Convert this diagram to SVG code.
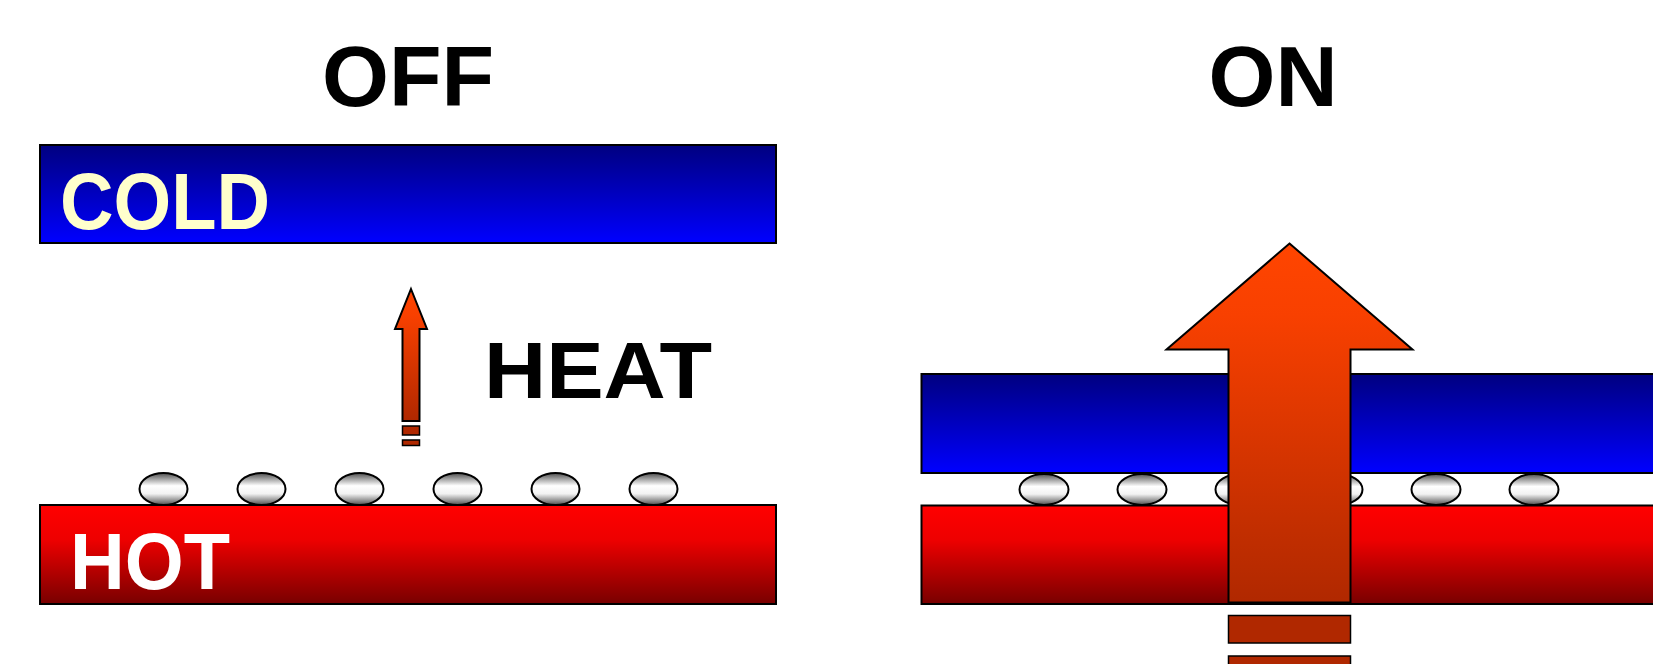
<svg xmlns="http://www.w3.org/2000/svg" width="1653" height="664" viewBox="0 0 1653 664">
<defs>
<linearGradient id="gBlue" x1="0" y1="0" x2="0" y2="1"><stop offset="0" stop-color="#000080"/><stop offset="1" stop-color="#0000FF"/></linearGradient>
<linearGradient id="gRed" x1="0" y1="0" x2="0" y2="1"><stop offset="0" stop-color="#FF0000"/><stop offset="0.35" stop-color="#EE0000"/><stop offset="1" stop-color="#780000"/></linearGradient>
<linearGradient id="gArrow" x1="0" y1="0" x2="0" y2="1"><stop offset="0" stop-color="#FF4500"/><stop offset="0.2" stop-color="#F84000"/><stop offset="1" stop-color="#B02800"/></linearGradient>
<linearGradient id="gBall" x1="0" y1="0" x2="0" y2="1"><stop offset="0" stop-color="#505050"/><stop offset="0.4" stop-color="#FFFFFF"/><stop offset="0.65" stop-color="#F2F2F2"/><stop offset="1" stop-color="#505050"/></linearGradient>
</defs>
<style>
.title{font-family:"Liberation Sans",Arial,sans-serif;font-weight:bold;font-size:86px;fill:#000;text-anchor:middle}
.lbl{font-family:"Liberation Sans",Arial,sans-serif;font-weight:bold;font-size:80px}
.plate{stroke:#000;stroke-width:2}
.ball{fill:url(#gBall);stroke:#000;stroke-width:2}
.arrow{fill:url(#gArrow);stroke:#000;stroke-width:2;stroke-linejoin:miter}
.dash{fill:#B02800;stroke:#000;stroke-width:1.5}
</style>

<text class="title" x="408" y="106">OFF</text>
<text class="title" x="1273" y="106">ON</text>

<g id="off-cold">
<rect class="plate" x="40" y="145" width="736" height="98" fill="url(#gBlue)"/>
<text class="lbl" x="60" y="229" fill="#FFFFCC" textLength="210" lengthAdjust="spacingAndGlyphs">COLD</text>
</g>

<g id="off-balls">
<ellipse class="ball" cx="163.5" cy="489" rx="24" ry="16"/>
<ellipse class="ball" cx="261.5" cy="489" rx="24" ry="16"/>
<ellipse class="ball" cx="359.5" cy="489" rx="24" ry="16"/>
<ellipse class="ball" cx="457.5" cy="489" rx="24" ry="16"/>
<ellipse class="ball" cx="555.5" cy="489" rx="24" ry="16"/>
<ellipse class="ball" cx="653.5" cy="489" rx="24" ry="16"/>
</g>

<g id="off-hot">
<rect class="plate" x="40" y="505" width="736" height="99" fill="url(#gRed)"/>
<text class="lbl" x="70" y="589" fill="#FFFFFF" textLength="160" lengthAdjust="spacingAndGlyphs">HOT</text>
</g>

<g id="off-heat">
<path class="arrow" d="M411,289 L427,329 L419.5,329 L419.5,421 L402.5,421 L402.5,329 L395,329 Z"/>
<rect class="dash" x="402.5" y="426" width="17" height="9"/>
<rect class="dash" x="402.5" y="440" width="17" height="5.5"/>
<text class="lbl" x="484" y="398" font-size="87" fill="#000" textLength="228" lengthAdjust="spacingAndGlyphs">HEAT</text>
</g>

<g id="on-cold">
<rect class="plate" x="921.5" y="374" width="740" height="99" fill="url(#gBlue)"/>
</g>

<g id="on-balls">
<ellipse class="ball" cx="1044" cy="489.5" rx="24.5" ry="15.5"/>
<ellipse class="ball" cx="1142" cy="489.5" rx="24.5" ry="15.5"/>
<ellipse class="ball" cx="1240" cy="489.5" rx="24.5" ry="15.5"/>
<ellipse class="ball" cx="1338" cy="489.5" rx="24.5" ry="15.5"/>
<ellipse class="ball" cx="1436" cy="489.5" rx="24.5" ry="15.5"/>
<ellipse class="ball" cx="1534" cy="489.5" rx="24.5" ry="15.5"/>
</g>

<g id="on-hot">
<rect class="plate" x="921.5" y="505.5" width="740" height="98.5" fill="url(#gRed)"/>
</g>

<g id="connectors">
<path class="arrow" d="M1289.5,243.5 L1412.5,349.5 L1350.5,349.5 L1350.5,602.5 L1228.5,602.5 L1228.5,349.5 L1166.5,349.5 Z"/>
<rect class="dash" x="1228.5" y="615.5" width="122" height="27.5"/>
<rect class="dash" x="1228.5" y="656" width="122" height="20"/>
</g>
</svg>
